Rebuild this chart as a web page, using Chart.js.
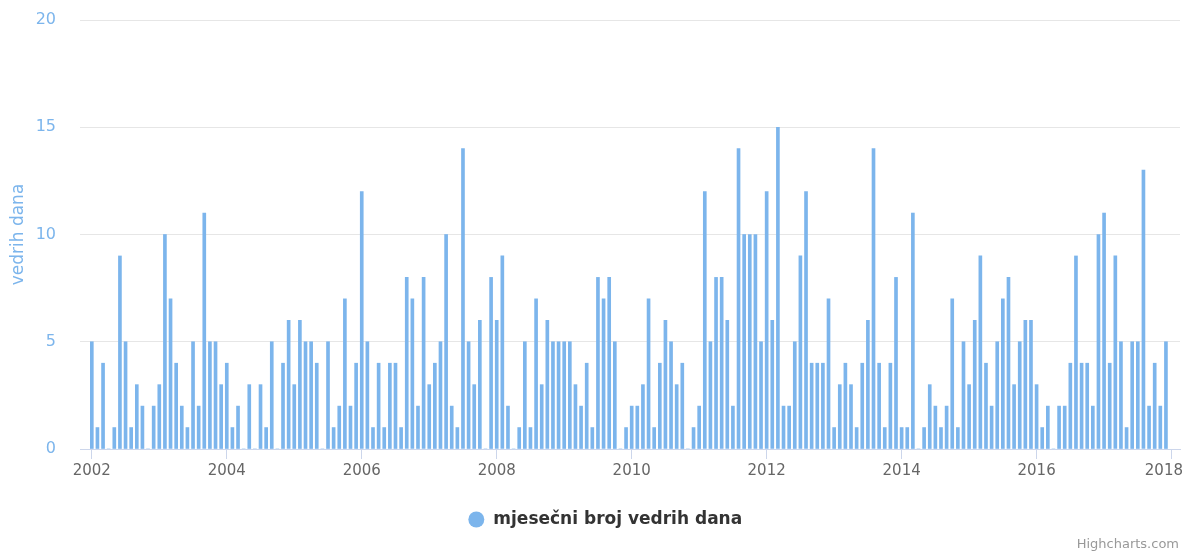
<!DOCTYPE html>
<html>
<head>
<meta charset="utf-8">
<script src="https://cdn.jsdelivr.net/npm/chart.js@4/dist/chart.umd.min.js"></script>
<style>
  html, body { margin: 0; padding: 0; background: #fff; }
  #wrap { position: relative; width: 1185px; height: 552px; }
  #credits { position: absolute; right: 6px; bottom: 1px; font: 13px "DejaVu Sans", sans-serif; color: #999; }
</style>
</head>
<body>
<div id="wrap">
  <canvas id="chart" width="1185" height="552"></canvas>
  <div id="credits">Highcharts.com</div>
</div>
<script>
// monthly count of clear days, Jan 2002 - Dec 2017
const startYear = 2002;
const seriesName = 'mjesečni broj vedrih dana';
const yearTicks = [2002, 2004, 2006, 2008, 2010, 2012, 2014, 2016, 2018];
const yTicks = [0, 5, 10, 15, 20];
const monthlyValues = [
    5, 1, 4, 0, 1, 9, 5, 1, 3, 2, 0, 2,      // 2002
    3, 10, 7, 4, 2, 1, 5, 2, 11, 5, 5, 3,    // 2003
    4, 1, 2, 0, 3, 0, 3, 1, 5, 0, 4, 6,      // 2004
    3, 6, 5, 5, 4, 0, 5, 1, 2, 7, 2, 4,      // 2005
    12, 5, 1, 4, 1, 4, 4, 1, 8, 7, 2, 8,     // 2006
    3, 4, 5, 10, 2, 1, 14, 5, 3, 6, 0, 8,    // 2007
    6, 9, 2, 0, 1, 5, 1, 7, 3, 6, 5, 5,      // 2008
    5, 5, 3, 2, 4, 1, 8, 7, 8, 5, 0, 1,      // 2009
    2, 2, 3, 7, 1, 4, 6, 5, 3, 4, 0, 1,      // 2010
    2, 12, 5, 8, 8, 6, 2, 14, 10, 10, 10, 5, // 2011
    12, 6, 15, 2, 2, 5, 9, 12, 4, 4, 4, 7,   // 2012
    1, 3, 4, 3, 1, 4, 6, 14, 4, 1, 4, 8,     // 2013
    1, 1, 11, 0, 1, 3, 2, 1, 2, 7, 1, 5,     // 2014
    3, 6, 9, 4, 2, 5, 7, 8, 3, 5, 6, 6,      // 2015
    3, 1, 2, 0, 2, 2, 4, 9, 4, 4, 2, 10,     // 2016
    11, 4, 9, 5, 1, 5, 5, 13, 2, 4, 2, 5     // 2017
];

const font = '"DejaVu Sans", sans-serif';
const blue = '#7cb5ec';
const lastYear = yearTicks[yearTicks.length - 1];

const points = monthlyValues.map((v, i) => ({ x: startYear + i / 12, y: v }));

// the last year label is pulled back inside the canvas, like Highcharts does
const lastLabel = {
    id: 'lastLabel',
    afterLayout(chart) {
        // legend sits a bit right of centre in the original
        chart.legend.left += 15;
        chart.legend.right += 15;
    },
    afterDraw(chart) {
        const s = chart.scales.x;
        const ctx = chart.ctx;
        ctx.save();
        ctx.font = '15px ' + font;
        ctx.fillStyle = '#666';
        ctx.textAlign = 'right';
        ctx.textBaseline = 'middle';
        const w = ctx.measureText(String(lastYear)).width;
        const x = Math.min(s.getPixelForValue(lastYear) + w / 2, chart.width - 2);
        ctx.fillText(String(lastYear), x, s.top + 22);
        ctx.restore();
    }
};

new Chart(document.getElementById('chart'), {
    type: 'bar',
    data: {
        datasets: [{
            label: seriesName,
            data: points,
            backgroundColor: blue,
            borderWidth: 0,
            barThickness: 3
        }]
    },
    options: {
        responsive: false,
        animation: false,
        layout: { padding: { top: 20, right: 5, bottom: 14, left: 0 } },
        plugins: {
            tooltip: { enabled: false },
            legend: {
                position: 'bottom',
                labels: {
                    usePointStyle: true,
                    pointStyle: 'circle',
                    boxHeight: 11.3,
                    padding: 10,
                    color: '#333',
                    font: { family: font, size: 17, weight: 'bold' }
                }
            }
        },
        scales: {
            x: {
                type: 'linear',
                offset: false,
                min: startYear - 2.1 / 12,
                max: startYear + 193.5 / 12,
                afterBuildTicks: s => { s.ticks = yearTicks.map(v => ({ value: v })); },
                afterFit: s => { s.height = 52; s.paddingLeft = 0; s.paddingRight = 0; },
                grid: { offset: false, drawOnChartArea: false, color: '#ccd6eb', tickLength: 10 },
                border: { color: '#ccd6eb' },
                ticks: {
                    color: '#666',
                    font: { family: font, size: 15 },
                    padding: 3,
                    maxRotation: 0,
                    callback: v => v === lastYear ? '' : String(v)
                }
            },
            y: {
                min: 0,
                max: 20,
                afterBuildTicks: s => { s.ticks = yTicks.map(v => ({ value: v })); },
                afterFit: s => { s.width = 80; s.paddingTop = 0; s.paddingBottom = 0; },
                grid: { color: '#e6e6e6', drawTicks: false },
                border: { display: false },
                ticks: {
                    color: blue,
                    font: { family: font, size: 16 },
                    padding: 24
                },
                title: {
                    display: true,
                    text: 'vedrih dana',
                    color: blue,
                    font: { family: font, size: 17 },
                    padding: { top: 8, bottom: 0 }
                }
            }
        }
    },
    plugins: [lastLabel]
});
</script>
</body>
</html>
